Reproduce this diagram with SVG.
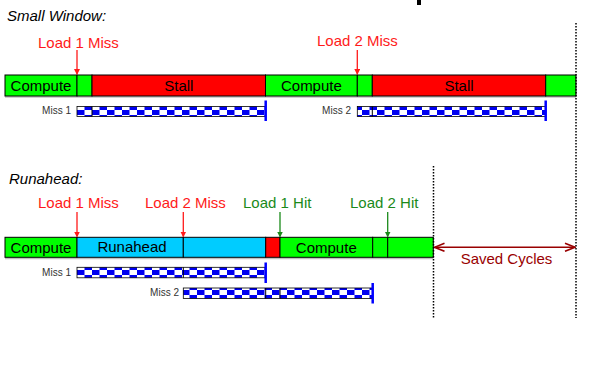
<svg xmlns="http://www.w3.org/2000/svg" width="601" height="378" viewBox="0 0 601 378">
<style>
text{font-family:"Liberation Sans",Arial,sans-serif}
.sec{font-size:15px;font-style:italic;fill:#000}
.lbl{font-size:15px}
.miss{fill:#ff1a1a}
.hit{fill:#1a8a1a}
.bt{font-size:15px;fill:#000;text-anchor:middle}
.ml{font-size:10px;fill:#333;text-anchor:end}
.seg{stroke:#000;stroke-width:1}
.g{fill:#00ff00}
.r{fill:#ff0000}
.b{fill:#00ccff}
.chk{fill:url(#checker);stroke:#000;stroke-width:0.8}
.div{stroke:#000;stroke-width:1}
.end{stroke:#0000ff;stroke-width:2.5}
.dot{stroke:#000;stroke-width:1.5;stroke-dasharray:1.5 1.5}
.shadow{stroke:#c0c0c0;stroke-width:1.5}
.ar{stroke:#ff1a1a;stroke-width:1.3;fill:none}
.ag{stroke:#1a8a1a;stroke-width:1.3;fill:none}
</style>
<defs>
<pattern id="checker" patternUnits="userSpaceOnUse" x="77" y="0" width="15" height="10">
<rect width="15" height="10" fill="#fff"/>
<rect x="0" y="0" width="7.5" height="5" fill="#0000f0"/>
<rect x="7.5" y="5" width="7.5" height="5" fill="#0000f0"/>
</pattern>
<marker id="hr" markerWidth="6" markerHeight="6" refX="5" refY="3" orient="auto" markerUnits="userSpaceOnUse">
<path d="M0,0 L6,3 L0,6 Z" fill="#ff1a1a"/>
</marker>
<marker id="hg" markerWidth="6" markerHeight="6" refX="5" refY="3" orient="auto" markerUnits="userSpaceOnUse">
<path d="M0,0 L6,3 L0,6 Z" fill="#1a8a1a"/>
</marker>
<marker id="sv" markerWidth="12" markerHeight="10" refX="11" refY="5" orient="auto-start-reverse" markerUnits="userSpaceOnUse">
<path d="M1,1 L11,5 L1,9" fill="none" stroke="#990000" stroke-width="1.6"/>
</marker>
</defs>

<rect x="417" y="0" width="4" height="5" fill="#000"/>

<g id="title-small"><text class="sec" x="7" y="21">Small Window:</text></g>
<g id="title-runahead"><text class="sec" x="9" y="184">Runahead:</text></g>

<g id="sw-bar">
<line class="shadow" x1="5" y1="97" x2="576" y2="97"/>
<rect class="seg g" x="5" y="75" width="72" height="21"/>
<rect class="seg g" x="77" y="75" width="15" height="21"/>
<rect class="seg r" x="92" y="75" width="173.5" height="21"/>
<rect class="seg g" x="265.5" y="75" width="91.8" height="21"/>
<rect class="seg g" x="357.3" y="75" width="15" height="21"/>
<rect class="seg r" x="372.3" y="75" width="173.4" height="21"/>
<rect class="seg g" x="545.7" y="75" width="30.3" height="21"/>
<text class="bt" x="41" y="91">Compute</text>
<text class="bt" x="178.8" y="91">Stall</text>
<text class="bt" x="311.4" y="91">Compute</text>
<text class="bt" x="459" y="91">Stall</text>
</g>

<g id="sw-miss1">
<text class="ml" x="71" y="114">Miss 1</text>
<rect class="chk" x="77" y="106.5" width="188.5" height="10"/>
<line class="div" x1="92" y1="106.5" x2="92" y2="116.5"/>
<line class="end" x1="265.7" y1="100.5" x2="265.7" y2="121"/>
</g>

<g id="sw-miss2">
<text class="ml" x="351" y="114">Miss 2</text>
<rect class="chk" x="357.3" y="106.5" width="188.4" height="10"/>
<line class="div" x1="372.3" y1="106.5" x2="372.3" y2="116.5"/>
<line class="end" x1="545.7" y1="100.5" x2="545.7" y2="121"/>
</g>

<g id="sw-labels">
<text class="lbl miss" x="38" y="48">Load 1 Miss</text>
<text class="lbl miss" x="317" y="46">Load 2 Miss</text>
</g>

<g id="ra-bar">
<line class="shadow" x1="5" y1="258.5" x2="433.3" y2="258.5"/>
<rect class="seg g" x="5" y="237.3" width="72" height="20"/>
<rect class="seg b" x="77" y="237.3" width="106.3" height="20"/>
<rect class="seg b" x="183.3" y="237.3" width="82.4" height="20"/>
<rect class="seg r" x="265.7" y="237.3" width="14.3" height="20"/>
<rect class="seg g" x="280" y="237.3" width="92.7" height="20"/>
<rect class="seg g" x="372.7" y="237.3" width="15" height="20"/>
<rect class="seg g" x="387.7" y="237.3" width="45.6" height="20"/>
<text class="bt" x="41" y="253">Compute</text>
<text class="bt" x="132" y="252">Runahead</text>
<text class="bt" x="326.3" y="253">Compute</text>
</g>

<g id="ra-miss1">
<text class="ml" x="71" y="276">Miss 1</text>
<rect class="chk" x="77" y="267.3" width="188.7" height="10.5"/>
<line class="div" x1="183.3" y1="267.3" x2="183.3" y2="277.8"/>
<line class="end" x1="265.7" y1="262.5" x2="265.7" y2="283"/>
</g>

<g id="ra-miss2">
<text class="ml" x="179" y="296">Miss 2</text>
<rect class="chk" x="183.3" y="288" width="189.4" height="10.5"/>
<line class="div" x1="265.7" y1="288" x2="265.7" y2="298.5"/>
<line class="div" x1="280" y1="288" x2="280" y2="298.5"/>
<line class="end" x1="372.7" y1="283" x2="372.7" y2="303.5"/>
</g>

<g id="ra-labels">
<text class="lbl miss" x="38" y="208">Load 1 Miss</text>
<text class="lbl miss" x="145" y="208">Load 2 Miss</text>
<text class="lbl hit" x="243" y="208">Load 1 Hit</text>
<text class="lbl hit" x="350" y="208">Load 2 Hit</text>
</g>

<g id="saved-cycles">
<text x="506.5" y="264" font-size="15" fill="#990000" text-anchor="middle" style="font-family:'Liberation Sans',Arial,sans-serif">Saved Cycles</text>
</g>

<g id="connectors">
<line class="ar" x1="77" y1="50" x2="77" y2="74" marker-end="url(#hr)"/>
<line class="ar" x1="357.3" y1="50" x2="357.3" y2="74" marker-end="url(#hr)"/>
<line class="ar" x1="77" y1="212" x2="77" y2="236.5" marker-end="url(#hr)"/>
<line class="ar" x1="183.3" y1="212" x2="183.3" y2="236.5" marker-end="url(#hr)"/>
<line class="ag" x1="280" y1="212" x2="280" y2="236.5" marker-end="url(#hg)"/>
<line class="ag" x1="387.7" y1="212" x2="387.7" y2="236.5" marker-end="url(#hg)"/>
<line x1="434.5" y1="247.3" x2="575" y2="247.3" stroke="#990000" stroke-width="1.6" marker-start="url(#sv)" marker-end="url(#sv)"/>
<line class="dot" x1="576" y1="23" x2="576" y2="318"/>
<line class="dot" x1="433.5" y1="166" x2="433.5" y2="318"/>
</g>
</svg>
